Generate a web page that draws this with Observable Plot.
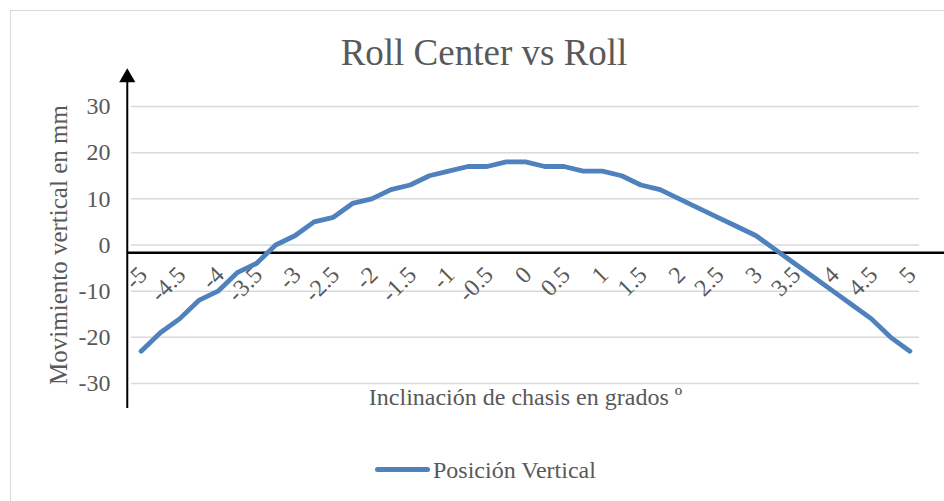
<!DOCTYPE html>
<html>
<head>
<meta charset="utf-8">
<script src="https://cdn.jsdelivr.net/npm/d3@7"></script>
<script src="https://cdn.jsdelivr.net/npm/@observablehq/plot@0.6"></script>
<style>
  html, body { margin: 0; padding: 0; background: #fff; overflow: hidden; }
  #wrap { position: relative; width: 944px; height: 501px; overflow: hidden; font-family: "Liberation Serif", "Times New Roman", serif; color: #595959; }
  #border { position: absolute; left: 10px; top: 10px; width: 980px; height: 540px; border: 1.5px solid #d9d9d9; box-sizing: border-box; }
  #chart { position: absolute; left: 0; top: 0; }
  #chart svg text { font-family: "Liberation Serif", "Times New Roman", serif; }
  #title { position: absolute; left: 0; top: 34px; width: 968px; text-align: center; font-size: 37px; line-height: 37px; white-space: nowrap; }
  #legend-line { position: absolute; left: 375px; top: 467px; width: 55px; height: 5px; border-radius: 3px; background: #4f81bd; }
  #legend-text { position: absolute; left: 433px; top: 458px; font-size: 24px; line-height: 24px; white-space: nowrap; }
</style>
</head>
<body>
<div id="wrap">
  <div id="border"></div>
  <div id="chart"></div>
  <div id="title">Roll Center vs Roll</div>
  <div id="legend-line"></div>
  <div id="legend-text">Posición Vertical</div>
</div>
<script>
const categories = [-5, -4.75, -4.5, -4.25, -4, -3.75, -3.5, -3.25, -3, -2.75, -2.5, -2.25, -2, -1.75, -1.5, -1.25, -1, -0.75, -0.5, -0.25, 0, 0.25, 0.5, 0.75, 1, 1.25, 1.5, 1.75, 2, 2.25, 2.5, 2.75, 3, 3.25, 3.5, 3.75, 4, 4.25, 4.5, 4.75, 5];
const posicionVertical = [-23, -19, -16, -12, -10, -6, -4, 0, 2, 5, 6, 9, 10, 12, 13, 15, 16, 17, 17, 18, 18, 17, 17, 16, 16, 15, 13, 12, 10, 8, 6, 4, 2, -1, -4, -7, -10, -13, -16, -20, -23];
const xTickValues = [-5, -4.5, -4, -3.5, -3, -2.5, -2, -1.5, -1, -0.5, 0, 0.5, 1, 1.5, 2, 2.5, 3, 3.5, 4, 4.5, 5];
const xTickLabels = ["-5", "-4.5", "-4", "-3.5", "-3", "-2.5", "-2", "-1.5", "-1", "-0.5", "0", "0.5", "1", "1.5", "2", "2.5", "3", "3.5", "4", "4.5", "5"];
const yTicks = [-30, -20, -10, 0, 10, 20, 30];
const yTickLabels = ["-30", "-20", "-10", "0", "10", "20", "30"];
const yLabel = "Movimiento vertical en mm";
const xLabel = "Inclinación de chasis en grados º";
// drawn axis lines (in data units)
const axisCross = -1.7;
const arrowX = -5.18;
const arrowTop = 38.2;
const arrowBottom = -35.4;

const data = categories.map((c, i) => ({x: c, y: posicionVertical[i]}));
const font = "Liberation Serif, Times New Roman, serif";

const chart = Plot.plot({
  width: 944,
  height: 501,
  marginLeft: 131,
  marginRight: 25,
  marginTop: 106,
  marginBottom: 118,
  style: {fontFamily: font, fontSize: "24px", color: "#595959", background: "transparent", overflow: "visible"},
  x: {domain: [-5.125, 5.125], axis: null},
  y: {domain: [-30, 30], axis: null},
  marks: [
    Plot.ruleY(yTicks, {stroke: "#d9d9d9", strokeWidth: 1.5}),
    Plot.text(yTicks, {y: d => d, frameAnchor: "left", text: (d, i) => yTickLabels[i], textAnchor: "end", dx: -21, fill: "#595959", fontSize: 24, fontFamily: font}),
    Plot.text(xTickValues, {x: d => d, y: () => axisCross, text: (d, i) => xTickLabels[i], rotate: -45, textAnchor: "end", lineAnchor: "middle", dx: 2, dy: 18, fill: "#595959", fontSize: 24, fontFamily: font}),
    Plot.ruleY([axisCross], {x1: () => arrowX, x2: () => 5.7, stroke: "black", strokeWidth: 2.5}),
    Plot.line(data, {x: "x", y: "y", stroke: "#4f81bd", strokeWidth: 4.8, strokeLinejoin: "round", strokeLinecap: "round"}),
    Plot.ruleX([arrowX], {y1: () => arrowBottom, y2: () => arrowTop - 3, stroke: "black", strokeWidth: 2}),
    Plot.dot([arrowX], {x: d => d, y: () => arrowTop, symbol: "triangle", r: 6, fill: "black", stroke: "none", dy: 9}),
    Plot.text([yLabel], {frameAnchor: "left", text: d => d, rotate: -90, textAnchor: "middle", dx: -73, fill: "#595959", fontSize: 25, fontFamily: font}),
    Plot.text([xLabel], {frameAnchor: "bottom", text: d => d, textAnchor: "middle", dy: 21, fill: "#595959", fontSize: 24, fontFamily: font})
  ]
});
document.getElementById("chart").appendChild(chart);
</script>
</body>
</html>
